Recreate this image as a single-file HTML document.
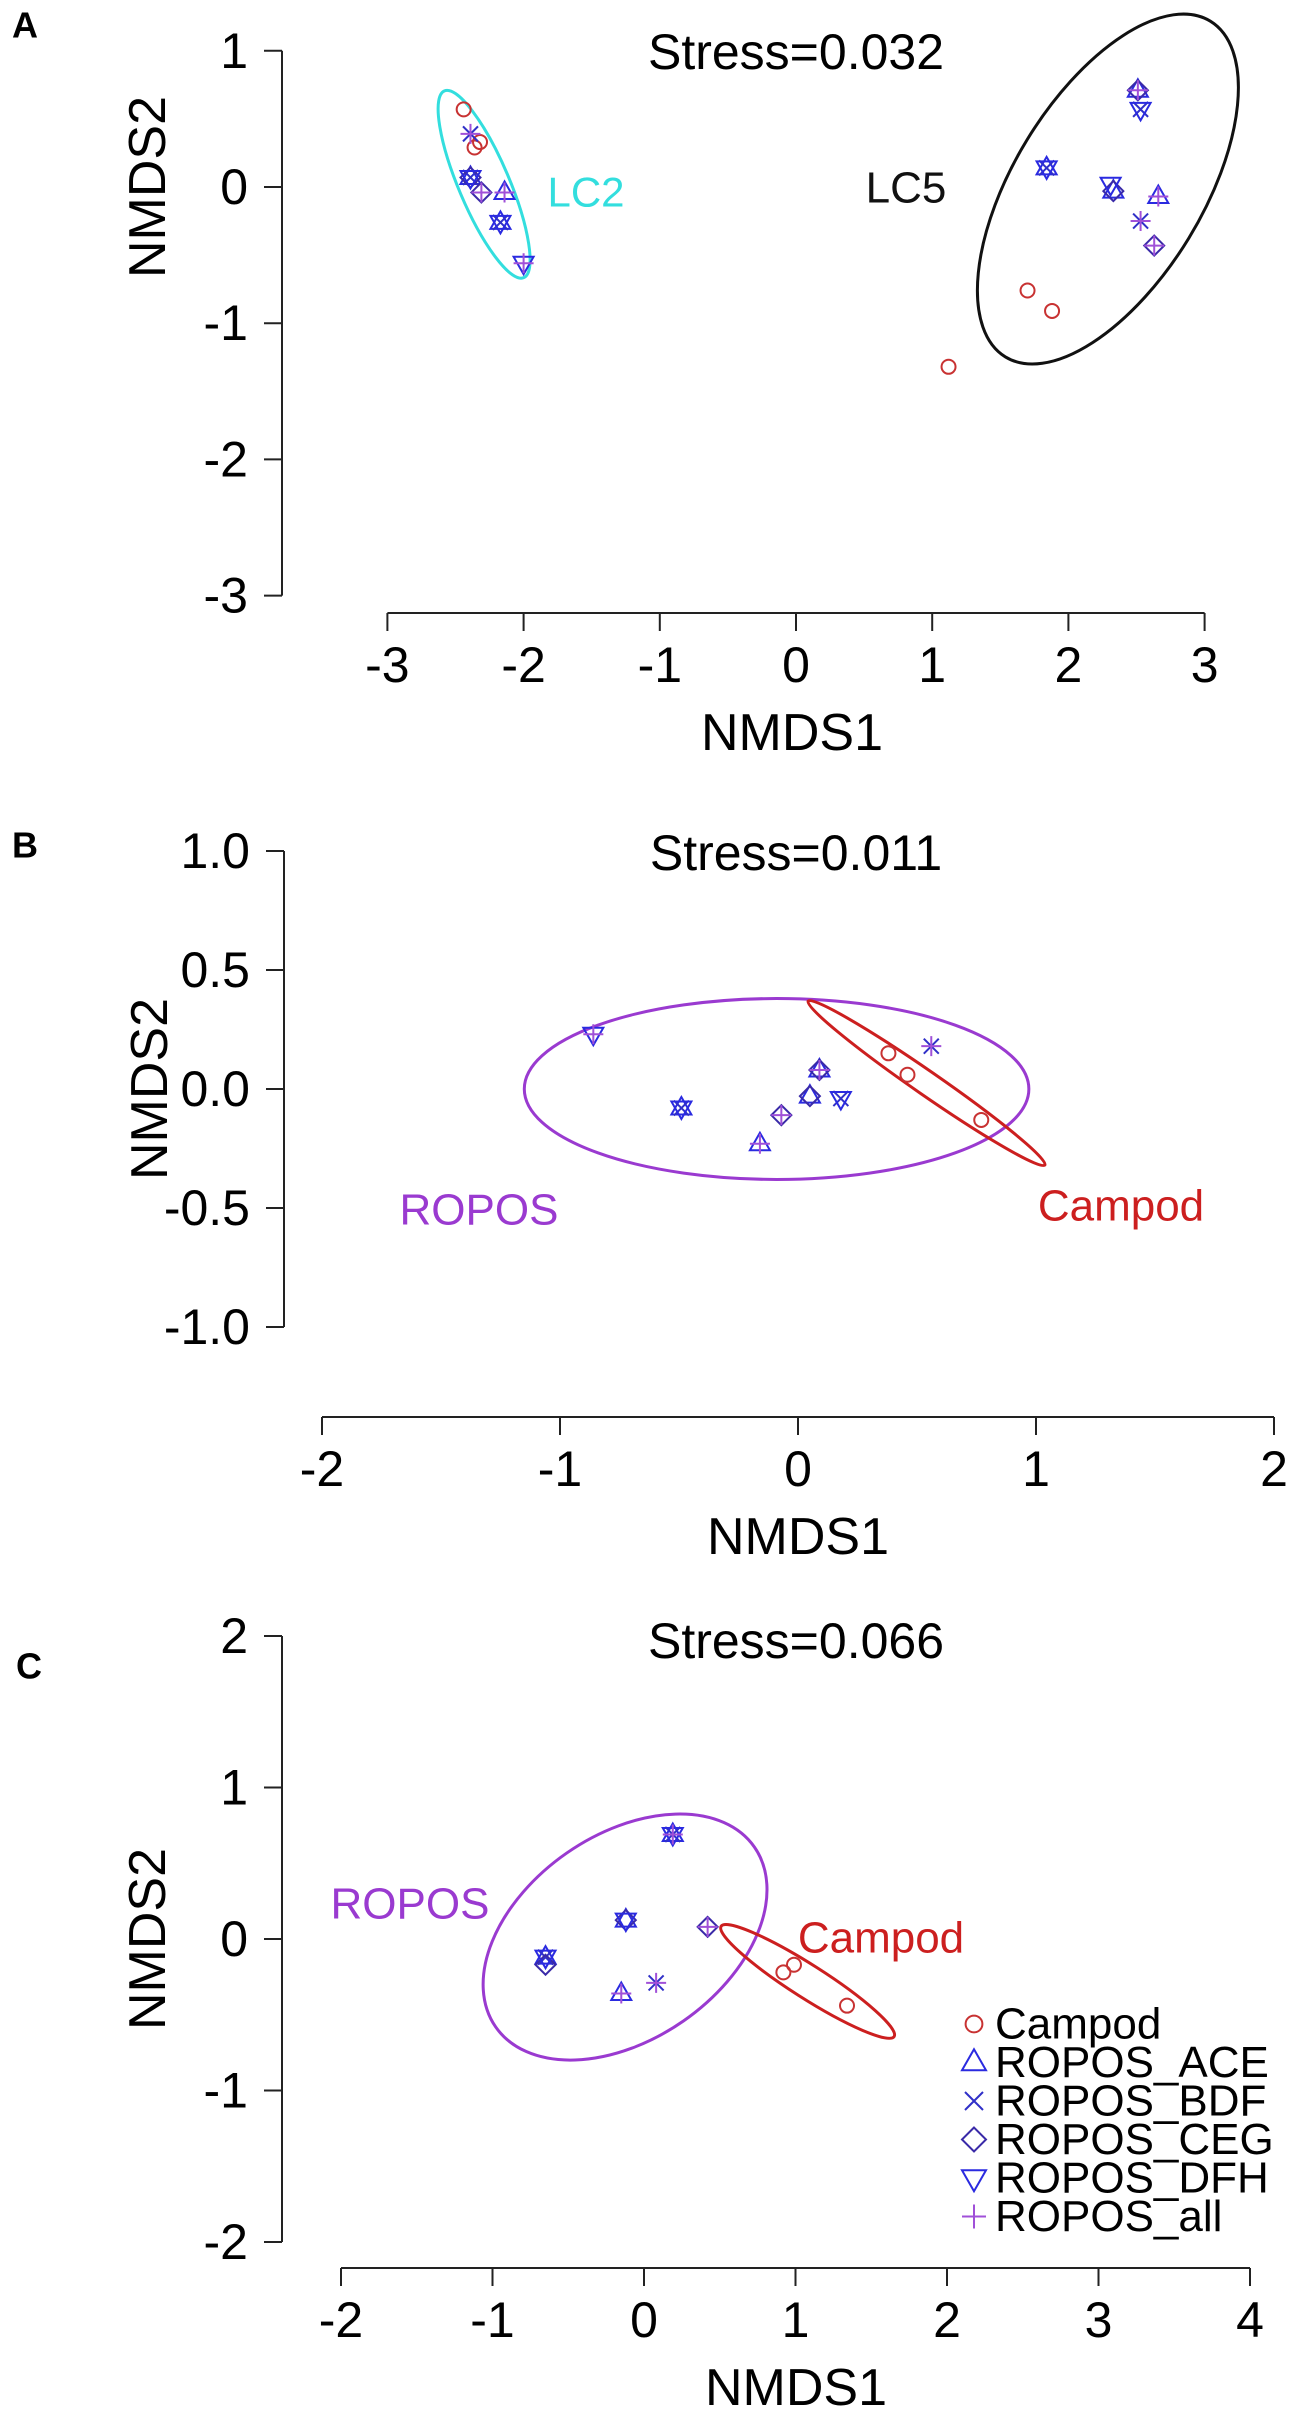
<!DOCTYPE html>
<html><head><meta charset="utf-8">
<style>
html,body{margin:0;padding:0;background:#fff;}
svg{display:block;font-family:"Liberation Sans",Arial,sans-serif;}
</style></head>
<body>
<svg id="fig" width="1300" height="2418" viewBox="0 0 1300 2418" xmlns="http://www.w3.org/2000/svg"></svg>
<script>
// ---------- Panel A data ----------
const aXTicks = [-3,-2,-1,0,1,2,3];
const aYTicks = [-3,-2,-1,0,1];
const aYTickLabels = ["-3","-2","-1","0","1"];
const aCampodX = [1.70,1.88,1.12,-2.44,-2.32,-2.36];
const aCampodY = [-0.76,-0.91,-1.32,0.57,0.33,0.29];
const aAceX = [2.51,1.84,2.33,2.66,-2.39,-2.14,-2.17];
const aAceY = [0.71,0.14,-0.03,-0.07,0.07,-0.04,-0.26];
const aBdfX = [2.53,1.84,2.53,-2.39,-2.39,-2.17];
const aBdfY = [0.57,0.14,-0.25,0.39,0.07,-0.26];
const aCegX = [2.51,2.33,2.63,-2.39,-2.31];
const aCegY = [0.71,-0.03,-0.43,0.07,-0.04];
const aDfhX = [2.53,1.84,2.31,-2.39,-2.17,-2.00];
const aDfhY = [0.57,0.14,0.02,0.07,-0.26,-0.56];
const aAllX = [2.51,2.66,2.53,2.63,-2.39,-2.31,-2.14,-2.00];
const aAllY = [0.71,-0.07,-0.25,-0.43,0.39,-0.04,-0.04,-0.56];
const aEllCx = [2.29,-2.29];
const aEllCy = [-0.015,0.02];
const aEllA = [1.444,0.745];
const aEllB = [0.695,0.186];
const aEllAng = [58.6,113];

// ---------- Panel B data ----------
const bXTicks = [-2,-1,0,1,2];
const bYTicks = [-1,-0.5,0,0.5,1];
const bYTickLabels = ["-1.0","-0.5","0.0","0.5","1.0"];
const bCampodX = [0.38,0.46,0.77];
const bCampodY = [0.15,0.06,-0.13];
const bAceX = [-0.49,-0.16,0.05,0.09];
const bAceY = [-0.08,-0.23,-0.03,0.08];
const bBdfX = [-0.49,0.18,0.56];
const bBdfY = [-0.08,-0.04,0.18];
const bCegX = [-0.07,0.05,0.09];
const bCegY = [-0.11,-0.03,0.08];
const bDfhX = [-0.86,-0.49,0.18];
const bDfhY = [0.23,-0.08,-0.04];
const bAllX = [-0.86,-0.07,-0.16,0.09,0.56];
const bAllY = [0.23,-0.11,-0.23,0.08,0.18];
const bEllCx = [-0.09,0.54];
const bEllCy = [0.0,0.025];
const bEllA = [1.06,0.605];
const bEllB = [0.38,0.05];
const bEllAng = [0,-34.7];

// ---------- Panel C data ----------
const cXTicks = [-2,-1,0,1,2,3,4];
const cYTicks = [-2,-1,0,1,2];
const cYTickLabels = ["-2","-1","0","1","2"];
const cCampodX = [0.92,0.99,1.34];
const cCampodY = [-0.22,-0.17,-0.44];
const cAceX = [0.19,-0.12,-0.65,-0.15];
const cAceY = [0.69,0.125,-0.12,-0.36];
const cBdfX = [0.19,-0.65,0.08];
const cBdfY = [0.69,-0.12,-0.29];
const cCegX = [-0.12,0.42,-0.65];
const cCegY = [0.125,0.08,-0.17];
const cDfhX = [0.19,-0.12,-0.65];
const cDfhY = [0.69,0.125,-0.12];
const cAllX = [0.19,0.42,-0.15,0.08];
const cAllY = [0.69,0.08,-0.36,-0.29];
const cEllCx = [-0.125,1.08];
const cEllCy = [0.013,-0.28];
const cEllA = [1.04,0.677];
const cEllB = [0.675,0.11];
const cEllAng = [34.8,-32.5];
const legendLabels = ["Campod","ROPOS_ACE","ROPOS_BDF","ROPOS_CEG","ROPOS_DFH","ROPOS_all"];

const NS = "http://www.w3.org/2000/svg";
const svg = document.getElementById("fig");
function mk(tag, attrs, parent){
  const e = document.createElementNS(NS, tag);
  for (const k in attrs) e.setAttribute(k, attrs[k]);
  (parent||svg).appendChild(e);
  return e;
}
const COL = {campod:"#c83232", ace:"#2a2ae0", bdf:"#3030c8", ceg:"#3a2aa8", dfh:"#2a2ae0", all:"#a050d8"};

function marker(g, type, x, y, s){
  let e;
  if (type==="campod"){ e = mk("circle",{cx:x,cy:y,r:s*0.7,fill:"none",stroke:COL.campod,"stroke-width":2},g); }
  else if (type==="ace"){ e = mk("polygon",{points:`${x},${y-s*1.1} ${x-s},${y+s*0.65} ${x+s},${y+s*0.65}`,fill:"none",stroke:COL.ace,"stroke-width":2},g); }
  else if (type==="dfh"){ e = mk("polygon",{points:`${x},${y+s*1.1} ${x-s},${y-s*0.65} ${x+s},${y-s*0.65}`,fill:"none",stroke:COL.dfh,"stroke-width":2},g); }
  else if (type==="ceg"){ e = mk("polygon",{points:`${x},${y-s} ${x-s},${y} ${x},${y+s} ${x+s},${y}`,fill:"none",stroke:COL.ceg,"stroke-width":2},g); }
  else if (type==="bdf"){ e = mk("path",{d:`M${x-s*0.75},${y-s*0.75}L${x+s*0.75},${y+s*0.75}M${x-s*0.75},${y+s*0.75}L${x+s*0.75},${y-s*0.75}`,stroke:COL.bdf,"stroke-width":2},g); }
  else { e = mk("path",{d:`M${x-s},${y}L${x+s},${y}M${x},${y-s}L${x},${y+s}`,stroke:COL.all,"stroke-width":2},g); }
  return e;
}

function panel(cfg){
  const g = mk("g",{});
  
  
  const X = v => cfg.x0 + cfg.k*v;
  const Y = v => cfg.y0 - cfg.k*v;
  // panel letter
  const L = mk("text",{x:cfg.letterX,y:cfg.letterY,"font-size":36,"font-weight":"bold","dominant-baseline":"middle"},g);
  L.textContent = cfg.letter;
  
  
  // y axis
  const ya = mk("g",{},g);
  
  
  const yt = cfg.yTicks;
  mk("line",{x1:cfg.yAxisX,x2:cfg.yAxisX,y1:Y(yt[0]),y2:Y(yt[yt.length-1]),stroke:"#222","stroke-width":2},ya);
  yt.forEach((v,i)=>{
    mk("line",{x1:cfg.yAxisX-18,x2:cfg.yAxisX,y1:Y(v),y2:Y(v),stroke:"#222","stroke-width":2},ya);
    const t = mk("text",{x:cfg.yAxisX-34,y:Y(v),"font-size":50,"text-anchor":"end","dominant-baseline":"central"},ya);
    t.textContent = cfg.yLabels[i];
    
    
  });
  const yl = mk("text",{x:0,y:0,"font-size":52,"text-anchor":"middle","dominant-baseline":"central",transform:`translate(${cfg.yTitleX},${cfg.y0}) rotate(-90)`},ya);
  yl.textContent = "NMDS2";
  
  
  // x axis
  const xa = mk("g",{},g);
  
  
  const xt = cfg.xTicks;
  mk("line",{x1:X(xt[0]),x2:X(xt[xt.length-1]),y1:cfg.xAxisY,y2:cfg.xAxisY,stroke:"#222","stroke-width":2},xa);
  xt.forEach(v=>{
    mk("line",{x1:X(v),x2:X(v),y1:cfg.xAxisY,y2:cfg.xAxisY+18,stroke:"#222","stroke-width":2},xa);
    const t = mk("text",{x:X(v),y:cfg.xAxisY+52,"font-size":50,"text-anchor":"middle","dominant-baseline":"central"},xa);
    t.textContent = String(v);
    
    
  });
  const xl = mk("text",{x:cfg.xTitleX,y:cfg.xAxisY+120,"font-size":52,"text-anchor":"middle","dominant-baseline":"central"},xa);
  xl.textContent = "NMDS1";
  
  
  // stress
  const st = mk("text",{x:796,y:cfg.stressY,"font-size":50,"text-anchor":"middle","dominant-baseline":"central"},g);
  st.textContent = cfg.stress;
  
  
  // ellipses
  cfg.ell.cx.forEach((cx,i)=>{
    const e = mk("ellipse",{cx:X(cx),cy:Y(cfg.ell.cy[i]),rx:cfg.k*cfg.ell.a[i],ry:cfg.k*cfg.ell.b[i],
      transform:`rotate(${-cfg.ell.ang[i]} ${X(cx)} ${Y(cfg.ell.cy[i])})`,fill:"none",stroke:cfg.ell.col[i],"stroke-width":3},g);
    
    
  });
  // group labels
  cfg.labels.forEach(l=>{
    const t = mk("text",{x:l.x,y:l.y,"font-size":l.fs,fill:l.col,"text-anchor":"middle","dominant-baseline":"central"},g);
    t.textContent = l.t;
    
    
  });
  // points
  cfg.series.forEach(s=>{
    const sg = mk("g",{},g);
    
    
    s.xs.forEach((xv,i)=>{
      const m = marker(sg, s.type, X(xv), Y(s.ys[i]), 10);
      
      
    });
  });
}

panel({name:"panel-a",letter:"A",letterX:12,letterY:28,x0:796,y0:187,k:136.2,yAxisX:282,xAxisY:613,
  yTitleX:148,xTitleX:792,stressY:52,stress:"Stress=0.032",
  xTicks:aXTicks,yTicks:aYTicks,yLabels:aYTickLabels,
  ell:{cx:aEllCx,cy:aEllCy,a:aEllA,b:aEllB,ang:aEllAng,col:["#111","#33dede"],names:["lc5-ellipse","lc2-ellipse"]},
  labels:[{t:"LC2",x:586,y:192,fs:42,col:"#33dede"},{t:"LC5",x:906,y:188,fs:44,col:"#111"}],
  series:[{type:"campod",xs:aCampodX,ys:aCampodY},{type:"ace",xs:aAceX,ys:aAceY},{type:"bdf",xs:aBdfX,ys:aBdfY},
    {type:"ceg",xs:aCegX,ys:aCegY},{type:"dfh",xs:aDfhX,ys:aDfhY},{type:"all",xs:aAllX,ys:aAllY}]});

panel({name:"panel-b",letter:"B",letterX:12,letterY:848,x0:798,y0:1089,k:238,yAxisX:284,xAxisY:1417,
  yTitleX:150,xTitleX:798,stressY:853,stress:"Stress=0.011",
  xTicks:bXTicks,yTicks:bYTicks,yLabels:bYTickLabels,
  ell:{cx:bEllCx,cy:bEllCy,a:bEllA,b:bEllB,ang:bEllAng,col:["#9a3ad0","#cc1f1f"],names:["ropos-ellipse","campod-ellipse"]},
  labels:[{t:"ROPOS",x:479,y:1210,fs:44,col:"#9a3ad0"},{t:"Campod",x:1121,y:1206,fs:44,col:"#cc1f1f"}],
  series:[{type:"campod",xs:bCampodX,ys:bCampodY},{type:"ace",xs:bAceX,ys:bAceY},{type:"bdf",xs:bBdfX,ys:bBdfY},
    {type:"ceg",xs:bCegX,ys:bCegY},{type:"dfh",xs:bDfhX,ys:bDfhY},{type:"all",xs:bAllX,ys:bAllY}]});

panel({name:"panel-c",letter:"C",letterX:16,letterY:1669,x0:644,y0:1939,k:151.5,yAxisX:282,xAxisY:2268,
  yTitleX:148,xTitleX:796,stressY:1641,stress:"Stress=0.066",
  xTicks:cXTicks,yTicks:cYTicks,yLabels:cYTickLabels,
  ell:{cx:cEllCx,cy:cEllCy,a:cEllA,b:cEllB,ang:cEllAng,col:["#9a3ad0","#cc1f1f"],names:["ropos-ellipse","campod-ellipse"]},
  labels:[{t:"ROPOS",x:410,y:1904,fs:44,col:"#9a3ad0"},{t:"Campod",x:881,y:1938,fs:44,col:"#cc1f1f"}],
  series:[{type:"campod",xs:cCampodX,ys:cCampodY},{type:"ace",xs:cAceX,ys:cAceY},{type:"bdf",xs:cBdfX,ys:cBdfY},
    {type:"ceg",xs:cCegX,ys:cCegY},{type:"dfh",xs:cDfhX,ys:cDfhY},{type:"all",xs:cAllX,ys:cAllY}]});

// legend
const lg = mk("g",{});


const legTypes = ["campod","ace","bdf","ceg","dfh","all"];
legendLabels.forEach((lab,i)=>{
  const y = 2024 + i*38.5;
  const eg = mk("g",{},lg);
  
  
  marker(eg, legTypes[i], 974, y, 12);
  const t = mk("text",{x:995,y:y,"font-size":44,"dominant-baseline":"central"},eg);
  t.textContent = lab;
});
</script>
</body></html>
